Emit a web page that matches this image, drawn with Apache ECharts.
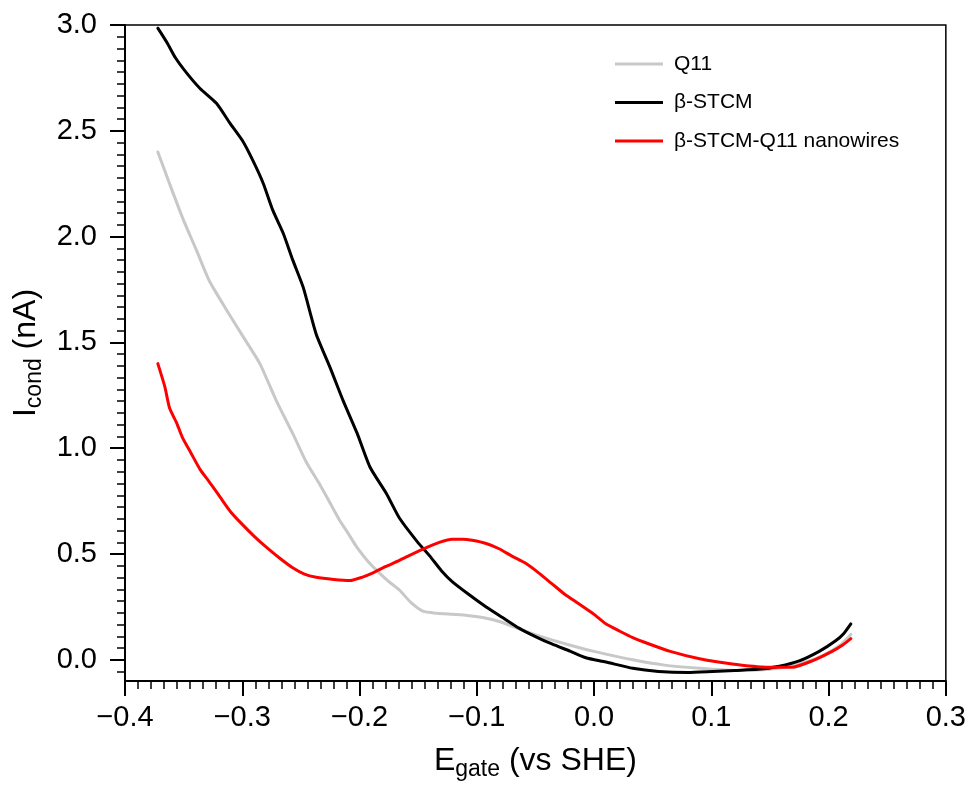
<!DOCTYPE html>
<html>
<head>
<meta charset="utf-8">
<script src="https://cdn.jsdelivr.net/npm/echarts@6/dist/echarts.min.js"></script>
<style>
html,body{margin:0;padding:0;background:#fff;}
#chart{width:969px;height:786px;}
</style>
</head>
<body>
<div id="chart"></div>
<script>
// ---- data ----
const seriesNames = ['Q11', 'β-STCM', 'β-STCM-Q11 nanowires'];

const q11E = [-0.372,-0.362,-0.351,-0.339,-0.328,-0.313,-0.299,-0.285,-0.271,-0.257,-0.245,-0.234,-0.225,-0.217,-0.210,-0.202,-0.192,-0.183,-0.175,-0.166,-0.156,-0.146,-0.134,-0.121,-0.108,-0.095,-0.080,-0.066,-0.045,-0.024,0.000,0.033,0.060,0.090,0.120,0.150,0.175,0.195,0.210,0.219];
const q11I = [2.40,2.25,2.09,1.935,1.79,1.65,1.525,1.40,1.225,1.07,0.93,0.83,0.74,0.66,0.60,0.53,0.46,0.41,0.37,0.33,0.27,0.23,0.22,0.215,0.21,0.20,0.18,0.15,0.11,0.075,0.04,0.00,-0.025,-0.04,-0.05,-0.045,-0.02,0.02,0.07,0.12];

const stcmE = [-0.372,-0.364,-0.357,-0.347,-0.336,-0.322,-0.311,-0.300,-0.291,-0.282,-0.274,-0.265,-0.257,-0.248,-0.237,-0.225,-0.214,-0.202,-0.191,-0.177,-0.166,-0.151,-0.140,-0.130,-0.121,-0.107,-0.092,-0.078,-0.064,-0.050,-0.036,-0.020,-0.007,0.010,0.033,0.055,0.080,0.101,0.120,0.140,0.158,0.175,0.192,0.206,0.213,0.219];
const stcmI = [2.985,2.915,2.845,2.77,2.70,2.63,2.54,2.455,2.36,2.25,2.125,2.015,1.89,1.76,1.54,1.38,1.225,1.07,0.91,0.785,0.67,0.56,0.49,0.42,0.37,0.31,0.25,0.20,0.15,0.11,0.075,0.04,0.01,-0.01,-0.04,-0.055,-0.06,-0.055,-0.05,-0.045,-0.03,-0.005,0.04,0.09,0.125,0.17];

const nanoE = [-0.372,-0.366,-0.362,-0.356,-0.351,-0.344,-0.336,-0.328,-0.319,-0.310,-0.300,-0.290,-0.279,-0.268,-0.257,-0.247,-0.237,-0.222,-0.208,-0.198,-0.189,-0.178,-0.166,-0.155,-0.143,-0.132,-0.121,-0.112,-0.104,-0.092,-0.081,-0.070,-0.058,-0.047,-0.036,-0.025,-0.013,0.000,0.010,0.022,0.033,0.047,0.065,0.090,0.118,0.147,0.169,0.186,0.203,0.212,0.219];
const nanoI = [1.40,1.29,1.19,1.12,1.05,0.98,0.90,0.84,0.77,0.70,0.64,0.585,0.53,0.48,0.435,0.405,0.39,0.38,0.375,0.39,0.41,0.44,0.47,0.50,0.53,0.555,0.57,0.57,0.565,0.55,0.525,0.49,0.455,0.41,0.36,0.31,0.265,0.215,0.17,0.135,0.105,0.075,0.04,0.005,-0.02,-0.035,-0.035,-0.005,0.04,0.07,0.10];

const xTicks = [-0.4,-0.3,-0.2,-0.1,0.0,0.1,0.2,0.3];
const yTicks = [0.0,0.5,1.0,1.5,2.0,2.5,3.0];

// ---- build ----
const zip = (a, b) => a.map((v, i) => [v, b[i]]);
const FONT = 'Liberation Sans, Arial, sans-serif';

const fmt = v => (v < 0 ? '\u2212' + Math.abs(v).toFixed(1) : v.toFixed(1));

// minor tick positions for y (9 subdivisions per 0.5)
const yMinor = [];
for (let k = -2; k <= 54; k++) {
  const v = +(k * 0.5 / 9).toFixed(6);
  if (v >= -0.1 && v <= 3.0 && k % 9 !== 0) yMinor.push(v);
}

const lineSeries = (name, e, i, color) => ({
  name, type: 'line', data: zip(e, i), symbol: 'none',
  smooth: 0.2,
  lineStyle: {color, width: 3, join: 'round', cap: 'round'}, itemStyle: {color}
});

const chart = echarts.init(document.getElementById('chart'), null, {renderer: 'canvas'});
chart.setOption({
  animation: false,
  backgroundColor: '#fff',
  grid: {left: 125, right: 22, top: 25, bottom: 105, show: true, borderColor: '#000', borderWidth: 1.5, backgroundColor: 'transparent'},
  legend: {
    orient: 'vertical', left: 610, top: 47,
    icon: 'rect', itemWidth: 48, itemHeight: 3, itemGap: 14.5,
    textStyle: {fontFamily: FONT, fontSize: 21, color: '#000', lineHeight: 24, padding: [0,0,0,6]},
    data: seriesNames
  },
  xAxis: {
    type: 'value', min: -0.4, max: 0.3, interval: 0.1,
    axisLine: {show: true, onZero: false, lineStyle: {color: '#000', width: 2}},
    axisTick: {show: true, length: 15, lineStyle: {color: '#000', width: 2}},
    minorTick: {show: true, splitNumber: 9, length: 8, lineStyle: {color: '#000', width: 1.5}},
    splitLine: {show: false},
    axisLabel: {formatter: fmt, fontFamily: FONT, fontSize: 29, color: '#000', margin: 22},
    name: '{a|E}{b|gate}{a| (vs SHE)}',
    nameLocation: 'middle', nameGap: 60,
    nameTextStyle: {rich: {
      a: {fontFamily: FONT, fontSize: 32, color: '#000', lineHeight: 36, verticalAlign: 'bottom'},
      b: {fontFamily: FONT, fontSize: 23, color: '#000', lineHeight: 24, verticalAlign: 'bottom', padding: [0,0,-4,0]}
    }}
  },
  yAxis: [{
    type: 'value', min: -0.1, max: 3.0,
    axisLine: {show: true, onZero: false, lineStyle: {color: '#000', width: 2}},
    axisTick: {show: true, length: 15, customValues: yTicks, lineStyle: {color: '#000', width: 2}},
    splitLine: {show: false},
    axisLabel: {customValues: yTicks, formatter: fmt, fontFamily: FONT, fontSize: 29, color: '#000', margin: 28},
    name: '{a|I}{b|cond}{a| (nA)}',
    nameLocation: 'middle', nameGap: 80, nameRotate: 90,
    nameTextStyle: {rich: {
      a: {fontFamily: FONT, fontSize: 32, color: '#000', lineHeight: 36, verticalAlign: 'bottom'},
      b: {fontFamily: FONT, fontSize: 23, color: '#000', lineHeight: 24, verticalAlign: 'bottom', padding: [0,0,-4,0]}
    }}
  }, {
    type: 'value', min: -0.1, max: 3.0, position: 'left',
    axisLine: {show: false, onZero: false},
    axisTick: {show: true, length: 8, customValues: yMinor, lineStyle: {color: '#000', width: 1.5}},
    axisLabel: {show: false},
    splitLine: {show: false}
  }],
  series: [
    lineSeries(seriesNames[0], q11E, q11I, '#c8c8c8'),
    lineSeries(seriesNames[1], stcmE, stcmI, '#000000'),
    lineSeries(seriesNames[2], nanoE, nanoI, '#ff0000')
  ]
});
</script>
</body>
</html>
